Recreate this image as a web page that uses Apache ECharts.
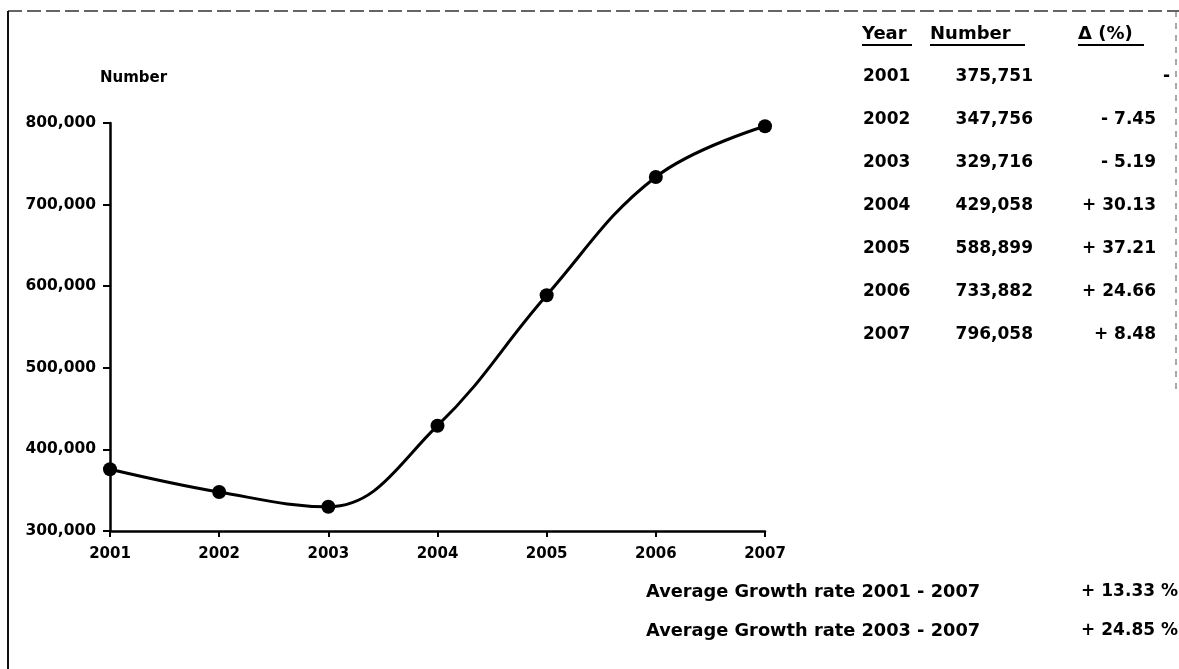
<!DOCTYPE html>
<html>
<head>
<meta charset="utf-8">
<script src="https://cdn.jsdelivr.net/npm/echarts@6/dist/echarts.min.js"></script>
<style>
html,body{margin:0;padding:0;background:#fff;}
#c{width:1179px;height:669px;}
</style>
</head>
<body>
<div id="c"></div>
<script>
const years = ['2001','2002','2003','2004','2005','2006','2007'];
const numbers = [375751, 347756, 329716, 429058, 588899, 733882, 796058];
const deltas = ['-', '- 7.45', '- 5.19', '+ 30.13', '+ 37.21', '+ 24.66', '+ 8.48'];
const yTicks = [300000, 400000, 500000, 600000, 700000, 800000];
const headers = ['Year', 'Number', 'Δ (%)'];
const avgLabels = ['Average Growth rate 2001 - 2007', 'Average Growth rate 2003 - 2007'];
const avgValues = ['+ 13.33 %', '+ 24.85 %'];

const FONT = '"DejaVu Sans", sans-serif';
const fmt = v => v.toString().replace(/\B(?=(\d{3})+(?!\d))/g, ',');

const chart = echarts.init(document.getElementById('c'));

const graphics = [];
// frame lines of the scanned page
graphics.push({type:'line', shape:{x1:8,y1:11,x2:1179,y2:11}, style:{stroke:'#333', lineWidth:1.5, lineDash:[14,5]}});
graphics.push({type:'line', shape:{x1:8,y1:11,x2:8,y2:669}, style:{stroke:'#111', lineWidth:2}});
graphics.push({type:'line', shape:{x1:1176,y1:11,x2:1176,y2:390}, style:{stroke:'#555', lineWidth:1, lineDash:[6,6]}});
// y axis title
graphics.push({type:'text', x:100, y:78, style:{text:'Number', font:'bold 15px ' + FONT, fill:'#000', textAlign:'left', textVerticalAlign:'middle'}});
// table headers
const hdrX = [862, 930, 1078];
const hdrW = [50, 95, 66];
headers.forEach((h, i) => {
  graphics.push({type:'text', x:hdrX[i], y:34, style:{text:h, font:'bold 18px ' + FONT, fill:'#000', textAlign:'left', textVerticalAlign:'middle'}});
  graphics.push({type:'line', shape:{x1:hdrX[i], y1:45, x2:hdrX[i]+hdrW[i], y2:45}, style:{stroke:'#000', lineWidth:2}});
});
// table rows
years.forEach((y, i) => {
  const yy = 77 + i * 42.9;
  graphics.push({type:'text', x:863, y:yy, style:{text:y, font:'bold 17px ' + FONT, fill:'#000', textAlign:'left', textVerticalAlign:'middle'}});
  graphics.push({type:'text', x:1033, y:yy, style:{text:fmt(numbers[i]), font:'bold 17px ' + FONT, fill:'#000', textAlign:'right', textVerticalAlign:'middle'}});
  graphics.push({type:'text', x:(i === 0 ? 1170 : 1156), y:yy, style:{text:deltas[i], font:'bold 17px ' + FONT, fill:'#000', textAlign:'right', textVerticalAlign:'middle'}});
});
// average growth
avgLabels.forEach((t, i) => {
  const yy = 592 + i * 39;
  graphics.push({type:'text', x:646, y:yy, style:{text:t, font:'bold 17.8px ' + FONT, fill:'#000', textAlign:'left', textVerticalAlign:'middle'}});
  graphics.push({type:'text', x:1178, y:yy, style:{text:avgValues[i], font:'bold 17px ' + FONT, fill:'#000', textAlign:'right', textVerticalAlign:'middle'}});
});

chart.setOption({
  animation: false,
  backgroundColor: '#fff',
  grid: {left: 110, right: 414, top: 123, bottom: 138, containLabel: false},
  xAxis: {
    type: 'category',
    data: years,
    boundaryGap: false,
    axisLine: {show: true, lineStyle: {color: '#000', width: 2.5}},
    axisTick: {show: true, inside: false, length: 6, lineStyle: {color: '#000', width: 2}},
    axisLabel: {color: '#000', fontFamily: FONT, fontWeight: 'bold', fontSize: 15, margin: 16},
    splitLine: {show: false}
  },
  yAxis: {
    type: 'value',
    min: 300000,
    max: 800000,
    interval: 100000,
    axisLine: {show: true, lineStyle: {color: '#000', width: 2.5}},
    axisTick: {show: true, inside: false, length: 7, lineStyle: {color: '#000', width: 2}},
    axisLabel: {color: '#000', fontFamily: FONT, fontWeight: 'bold', fontSize: 15.5, margin: 14,
      formatter: v => yTicks.indexOf(v) >= 0 ? fmt(v) : ''},
    splitLine: {show: false}
  },
  series: [{
    type: 'line',
    data: numbers,
    smooth: 0.4,
    symbol: 'circle',
    symbolSize: 14,
    itemStyle: {color: '#000'},
    lineStyle: {color: '#000', width: 3}
  }],
  graphic: graphics
});
</script>
</body>
</html>
